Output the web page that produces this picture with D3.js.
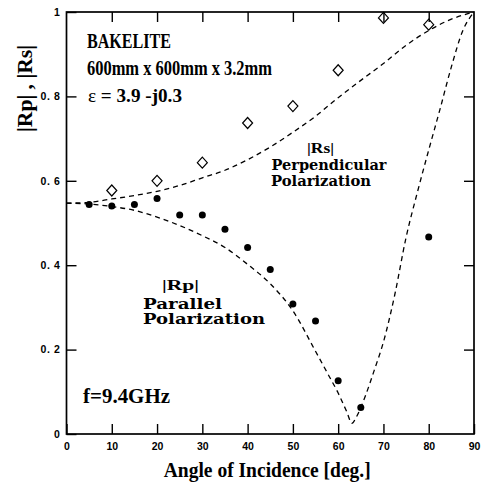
<!DOCTYPE html>
<html>
<head>
<meta charset="utf-8">
<script src="https://cdn.jsdelivr.net/npm/d3@7"></script>
<style>
  html, body { margin: 0; padding: 0; background: #fff; }
  svg { display: block; }
</style>
</head>
<body>
<div id="chart"></div>
<script>
// ---- data ----
const xTicks = [0, 10, 20, 30, 40, 50, 60, 70, 80, 90];
const yTicks = [0, 0.2, 0.4, 0.6, 0.8, 1];
const yTickLabels = ["0", "0. 2", "0. 4", "0. 6", "0. 8", "1"];

// measured |Rs| (open diamonds)
const rsAngles = [10, 20, 30, 40, 50, 60, 70, 80];
const rsMeasured = [0.577, 0.600, 0.643, 0.737, 0.777, 0.862, 0.986, 0.970];

// measured |Rp| (filled dots)
const rpAngles = [5, 10, 15, 20, 25, 30, 35, 40, 45, 50, 55, 60, 65, 80];
const rpMeasured = [0.544, 0.540, 0.544, 0.558, 0.519, 0.519, 0.485, 0.442, 0.390, 0.308, 0.268, 0.126, 0.063, 0.467];

// theoretical |Rs| (dashed)
const rsTheoryAngles = [0, 5, 10, 15, 20, 25, 30, 35, 40, 45, 50, 55, 60, 65, 70, 75, 80, 85, 90];
const rsTheory = [0.547, 0.549, 0.557, 0.565, 0.575, 0.589, 0.607, 0.625, 0.650, 0.680, 0.715, 0.753, 0.797, 0.838, 0.878, 0.921, 0.956, 0.983, 1.0];

// theoretical |Rp| (dashed)
const rpTheoryAngles = [0, 5, 10, 15, 20, 25, 30, 35, 40, 45, 50, 55, 58, 60, 62, 63, 64, 66, 68, 70, 72.5, 75, 77.5, 80, 82.5, 85, 87.5, 90];
const rpTheory = [0.547, 0.545, 0.539, 0.530, 0.514, 0.494, 0.470, 0.442, 0.402, 0.356, 0.292, 0.196, 0.137, 0.097, 0.050, 0.025, 0.040, 0.090, 0.152, 0.218, 0.330, 0.466, 0.573, 0.673, 0.770, 0.870, 0.955, 1.0];

// ---- layout ----
const W = 482, H = 486;
const svg = d3.select("#chart").append("svg").attr("width", W).attr("height", H);
svg.append("rect").attr("width", W).attr("height", H).attr("fill", "#fff");

const x = d3.scaleLinear().domain([0, 90]).range([66.5, 474]);
const y = d3.scaleLinear().domain([0, 1]).range([434, 12]);

const serif = "'Liberation Serif', 'Times New Roman', serif";
const sans = "'Liberation Sans', Arial, sans-serif";
const wideSerif = "'DejaVu Serif', serif";

// ---- theory curves ----
const line = d3.line().x(d => x(d[0])).y(d => y(d[1])).curve(d3.curveMonotoneX);
svg.append("path")
  .datum(rsTheoryAngles.map((a, i) => [a, rsTheory[i]]))
  .attr("d", line).attr("fill", "none").attr("stroke", "#000")
  .attr("stroke-width", 1.3).attr("stroke-dasharray", "5,4");
svg.append("path")
  .datum(rpTheoryAngles.map((a, i) => [a, rpTheory[i]]))
  .attr("d", line).attr("fill", "none").attr("stroke", "#000")
  .attr("stroke-width", 1.3).attr("stroke-dasharray", "5,4");

// ---- measured markers ----
svg.append("g").selectAll("path")
  .data(rsAngles.map((a, i) => [a, rsMeasured[i]]))
  .join("path")
  .attr("transform", d => `translate(${x(d[0])},${y(d[1])})`)
  .attr("d", "M0,-5.5L5,0L0,5.5L-5,0Z")
  .attr("fill", "#fff").attr("stroke", "#000").attr("stroke-width", 1.2);

svg.append("g").selectAll("circle")
  .data(rpAngles.map((a, i) => [a, rpMeasured[i]]))
  .join("circle")
  .attr("cx", d => x(d[0])).attr("cy", d => y(d[1])).attr("r", 3.5)
  .attr("fill", "#000");

// ---- axes ----
function styleAxis(g) {
  g.select(".domain").remove();
  g.selectAll(".tick line").attr("stroke", "#000").attr("stroke-width", 1.4);
  g.selectAll(".tick text").attr("fill", "#000");
}
svg.append("g").attr("transform", "translate(0,434)")
  .call(d3.axisBottom(x).tickValues(xTicks).tickFormat(d3.format("d")).tickSizeInner(-10).tickSizeOuter(0).tickPadding(9))
  .call(styleAxis)
  .call(g => g.selectAll(".tick text").attr("font-family", sans).attr("font-weight", "bold").attr("font-size", "10.5px"));
svg.append("g").attr("transform", "translate(0,12)")
  .call(d3.axisTop(x).tickValues(xTicks.slice(1, -1)).tickFormat("").tickSizeInner(-10).tickSizeOuter(0))
  .call(styleAxis);
svg.append("g").attr("transform", "translate(66.5,0)")
  .call(d3.axisLeft(y).tickValues(yTicks).tickFormat((d, i) => yTickLabels[i]).tickSizeInner(-10).tickSizeOuter(0).tickPadding(6))
  .call(styleAxis)
  .call(g => g.selectAll(".tick text").attr("font-family", sans).attr("font-weight", "bold").attr("font-size", "10.5px").attr("letter-spacing", "0.6px"));
svg.append("g").attr("transform", "translate(474,0)")
  .call(d3.axisRight(y).tickValues(yTicks.slice(1, -1)).tickFormat("").tickSizeInner(-10).tickSizeOuter(0))
  .call(styleAxis);

// frame
svg.append("rect")
  .attr("x", x(0)).attr("y", y(1)).attr("width", x(90) - x(0)).attr("height", y(0) - y(1))
  .attr("fill", "none").attr("stroke", "#000").attr("stroke-width", 1.7);

// ---- axis titles ----
svg.append("text")
  .attr("x", (x(0) + x(90)) / 2 - 3).attr("y", 477)
  .attr("text-anchor", "middle")
  .attr("font-family", serif).attr("font-weight", "bold").attr("font-size", "20px")
  .attr("textLength", 207).attr("lengthAdjust", "spacingAndGlyphs")
  .text("Angle of Incidence [deg.]");

svg.append("text")
  .attr("transform", "translate(32,88.5) rotate(-90)")
  .attr("text-anchor", "middle")
  .attr("font-family", serif).attr("font-weight", "bold").attr("font-size", "20px")
  .attr("textLength", 87).attr("lengthAdjust", "spacingAndGlyphs")
  .text("|Rp| , |Rs|");

// ---- annotations ----
function label(txt, xx, yy, size, len, family, adjust, weight) {
  const t = svg.append("text")
    .attr("x", xx).attr("y", yy)
    .attr("font-family", family).attr("font-weight", weight || "bold")
    .attr("font-size", size + "px")
    .text(txt);
  if (len) t.attr("textLength", len).attr("lengthAdjust", adjust || "spacingAndGlyphs");
  return t;
}
label("BAKELITE", 87, 48, 20, 84, serif);
label("600mm x 600mm x 3.2mm", 87, 75, 20, 185, serif);
const eps = svg.append("text").attr("x", 88).attr("y", 102)
  .attr("font-family", serif).attr("font-size", "18px").attr("font-weight", "bold")
  .attr("textLength", 94).attr("lengthAdjust", "spacingAndGlyphs");
eps.append("tspan").attr("font-weight", "normal").text("ε");
eps.append("tspan").text(" = 3.9 -j0.3");
label("f=9.4GHz", 83, 403, 22, 87, serif);

label("|Rs|", 307, 152.5, 14, 27, serif, "spacingAndGlyphs");
label("Perpendicular", 271.5, 169.5, 14, 115, wideSerif, "spacingAndGlyphs");
label("Polarization", 271, 185.5, 14, 100, wideSerif, "spacingAndGlyphs");

label("|Rp|", 162, 290, 14, 37, serif, "spacingAndGlyphs");
label("Parallel", 143, 308.5, 14, 79, wideSerif, "spacingAndGlyphs");
label("Polarization", 143, 323.5, 14, 122, wideSerif, "spacingAndGlyphs");
</script>
</body>
</html>
